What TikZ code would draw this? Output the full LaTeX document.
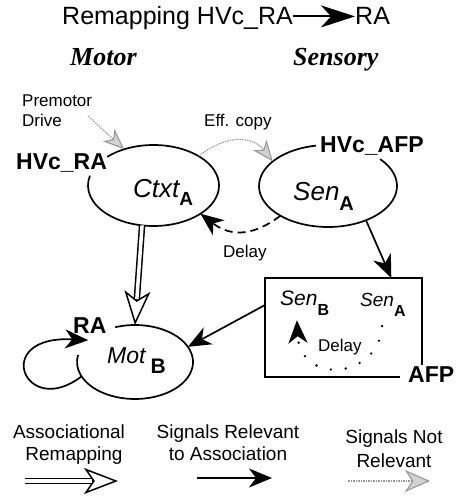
\documentclass[tikz,border=0pt]{standalone}
\usepackage{fontspec}
\setmainfont{Liberation Sans}
\newfontfamily\timesbi{Liberation Serif}
\usetikzlibrary{arrows.meta}
\usetikzlibrary{shapes.geometric}
\newcommand{\lowsub}[3]{\raisebox{-#1}{\fontsize{#2}{#2}\selectfont\bfseries\upshape #3}}
\tikzset{
  lab/.style={anchor=base west, inner sep=0pt, font=\fontsize{17}{20}\selectfont},
  area/.style={anchor=base west, inner sep=0pt, font=\fontsize{23}{26}\selectfont\bfseries},
  legend/.style={anchor=base, inner sep=0pt, font=\fontsize{19}{22}\selectfont},
  cell/.style={ellipse, draw=none, inner sep=0pt, outer sep=0pt},
  rim/.style={line width=1.7pt},
  sig/.style={line width=1.7pt, -{Stealth[length=23pt, width=19pt, inset=7pt]}},
  faint/.style={draw=black!40, line width=1.1pt, dash pattern=on 1.5pt off 1pt, -{Stealth[length=21pt, width=17pt, inset=6pt, fill=black!18]}},
  assoc/.style={double, double distance=3.5pt, line width=1.5pt},
  assochead/.style={line width=1.5pt, -{Stealth[open, length=34pt, width=26pt, inset=9pt]}}
}
\begin{document}
\begin{tikzpicture}[x=1pt, y=-1pt]
\useasboundingbox (0,0) rectangle (456,497);
\node[lab, font=\fontsize{25}{28}\selectfont] (ttl) at (62,25) {Remapping HVc\_RA};
\node[lab, font=\fontsize{25}{28}\selectfont] (ttlra) at (355,25) {RA};
\draw[line width=2pt, -{Stealth[length=34pt, width=22pt, inset=10pt]}] (ttl.east |- ttlra.west) -- (ttlra.west);
\node[lab, font=\timesbi\bfseries\itshape\fontsize{26}{28}\selectfont] (motor) at (70,66) {Motor};
\node[lab, font=\timesbi\bfseries\itshape\fontsize{26}{28}\selectfont] (sensory) at (293,66) {Sensory};

\node[cell, minimum width=131pt, minimum height=81pt] (ctxt) at (153.5,185.5) {};
\node[cell, minimum width=138pt, minimum height=82pt] (sena) at (328,186) {};
\node[cell, minimum width=116pt, minimum height=74pt] (mot) at (135,362) {};
\draw[rim] ([shift={(225:65.5 and 40.5)}]ctxt.center) arc[start angle=225, end angle=554, x radius=65.5, y radius=40.5];
\draw[rim] ([shift={(319:69 and 41)}]sena.center) arc[start angle=319, end angle=620, x radius=69, y radius=41];
\draw[rim] ([shift={(250:58 and 37)}]mot.center) arc[start angle=250, end angle=551, x radius=58, y radius=37];
\node[draw=none, minimum width=157pt, minimum height=99pt, inner sep=0pt, outer sep=0pt] (afp) at (343.5,327.5) {};
\draw[line width=2pt] ([xshift=-22pt]afp.south east) -- (afp.south west) -- (afp.north west) -- (afp.north east) -- ([yshift=12pt]afp.south east);

\node[area] (hvcra) at (16,169) {HVc\_RA};
\node[area] (hvcafp) at (320,153) {HVc\_AFP};
\node[area] (ralab) at (73,333) {RA};
\node[area] (afplab) at (408,382) {AFP};
\node[lab, font=\fontsize{26}{28}\selectfont\itshape] (ctxtlab) at (133,197) {Ctxt\lowsub{8pt}{19}{A}};
\node[lab, font=\fontsize{26}{28}\selectfont\itshape] (senlab) at (293,200) {Sen\lowsub{10pt}{20}{A}};
\node[lab, font=\fontsize{23}{26}\selectfont\itshape] (motlab) at (107,363) {Mot\hspace{5pt}\lowsub{10pt}{21}{B}};
\node[lab, font=\fontsize{21}{24}\selectfont\itshape] (senb) at (280,305) {Sen\lowsub{10pt}{16}{B}};
\node[lab, font=\fontsize{19}{22}\selectfont\itshape] (sena2) at (360,306) {Sen\lowsub{10pt}{16}{A}};
\node[lab] (premotor) at (22,107) {Premotor};
\node[lab] (drive) at (22,127) {Drive};
\node[lab] (effcopy) at (204,127) {Eff. copy};
\node[lab] (delay) at (223,257) {Delay};
\node[lab] (delaybox) at (318,351) {Delay};

\coordinate (drivetail) at (88,116);
\draw[faint] (drivetail) -- (ctxt.129);
\draw[faint] (ctxt.33) .. controls (225,135) and (252,135) .. (sena.156);
\draw[sig, dash pattern=on 8pt off 5pt] (sena.212) .. controls (255,235) and (232,238) .. (ctxt.-31);
\draw[sig] (sena.-42) -- (afp.46);
\draw[sig] (afp.164) -- (mot.16);
\draw[sig] (mot.195) .. controls (25,420) and (-10,335) .. (mot.155);
\draw[assochead] (ctxt.254) -- (mot.north);
\draw[assoc, shorten >=26pt] (ctxt.254) -- (mot.north);
\draw[sig, line width=2.6pt, line cap=round, dash pattern=on 0pt off 15pt, shorten <=10pt, shorten >=5pt] (sena2.south) .. controls (378,380) and (300,385) .. ([xshift=-8pt]senb.south);

\node[legend] (lgremap) at (69,438) {Associational};
\node[legend] (lgremap2) at (74,460) {Remapping};
\node[legend] (lgrel) at (228,438) {Signals Relevant};
\node[legend] (lgrel2) at (228,460) {to Association};
\node[legend] (lgnot) at (394,443) {Signals Not};
\node[legend] (lgnot2) at (394,467) {Relevant};
\coordinate (remapA) at (25,481);
\coordinate (remapB) at (118,481);
\draw[assochead] (remapA) -- (remapB);
\draw[assoc, shorten >=26pt] (remapA) -- (remapB);
\coordinate (relA) at (197,478);
\coordinate (relB) at (272,478);
\draw[sig] (relA) -- (relB);
\coordinate (notA) at (348,481);
\coordinate (notB) at (430,481);
\draw[faint, -{Stealth[length=25pt, width=22pt, inset=7pt, fill=black!18]}] (notA) -- (notB);
\end{tikzpicture}
\end{document}
